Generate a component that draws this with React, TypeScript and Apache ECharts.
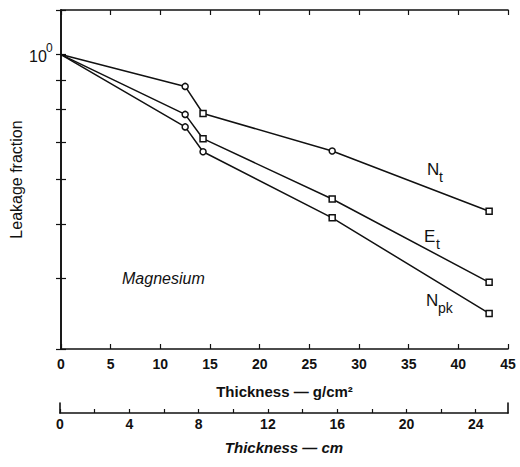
import React, { useEffect, useRef } from 'react';
import * as echarts from 'echarts';

// Absorber thickness (g/cm²) at which the leakage was measured
const thicknessGcm2 = [0, 12.5, 14.3, 27.3, 43.1];
// Leakage fractions
const nTotal = [1, 0.878, 0.786, 0.674, 0.527];
const eTotal = [1, 0.783, 0.709, 0.554, 0.394];
const nPeak = [1, 0.744, 0.672, 0.513, 0.347];
// Plot symbol used for each measured point
const nTotalMarks = ['circle', 'circle', 'rect', 'circle', 'rect'];
const eTotalMarks = ['circle', 'circle', 'rect', 'rect', 'rect'];
const nPeakMarks = ['circle', 'circle', 'circle', 'rect', 'rect'];

// Axis ticks
const leakageTicks = [0.3, 0.4, 0.5, 0.6, 0.7, 0.8, 0.9, 1.0, 1.2];
const cmTicks = [0, 2, 4, 6, 8, 10, 12, 14, 16, 18, 20, 22, 24];
const cmLabels = [0, 4, 8, 12, 16, 20, 24];
const magnesiumDensity = 1.74; // g/cm³

const FONT = 'Liberation Sans';
const INK = '#111';

function buildSeries(name: string, ys: number[], marks: string[]) {
  return {
    name,
    type: 'line',
    xAxisIndex: 0,
    yAxisIndex: 0,
    symbolSize: 6,
    lineStyle: { color: INK, width: 1.5 },
    itemStyle: { color: '#fff', borderColor: INK, borderWidth: 1.5 },
    data: thicknessGcm2.map((x, i) => ({
      value: [x, ys[i]],
      symbol: i === 0 ? 'none' : marks[i],
    })),
  };
}

function label(x: number, y: number, main: string, sub: string) {
  return {
    type: 'group',
    children: [
      {
        type: 'text',
        x,
        y,
        style: { text: main, font: `17px "${FONT}"`, fill: INK, textVerticalAlign: 'middle' },
      },
      {
        type: 'text',
        x: x + 12,
        y: y + 8,
        style: { text: sub, font: `14px "${FONT}"`, fill: INK, textVerticalAlign: 'middle' },
      },
    ],
  };
}

export default function App() {
  const ref = useRef<HTMLDivElement>(null);

  useEffect(() => {
    document.body.style.margin = '0';
    if (!ref.current) return;
    const chart = echarts.init(ref.current, null, { renderer: 'svg' });

    const tickStyle = { lineStyle: { color: INK, width: 1.2 } };
    const axisLine = { show: true, lineStyle: { color: INK, width: 1.6 } };

    chart.setOption({
      animation: false,
      backgroundColor: '#fff',
      grid: [
        { left: 61, right: 12, top: 10, height: 339 },
        { left: 60, right: 12, top: 403, height: 10 },
      ],
      xAxis: [
        {
          type: 'value',
          gridIndex: 0,
          position: 'bottom',
          min: 0,
          max: 45,
          interval: 5,
          axisLine,
          axisTick: { inside: true, length: 5, ...tickStyle },
          splitLine: { show: false },
          axisLabel: { margin: 8, fontSize: 14, fontWeight: 'bold', fontFamily: FONT, color: INK },
          name: 'Thickness — g/cm²',
          nameLocation: 'middle',
          nameGap: 35,
          nameTextStyle: { fontSize: 15, fontWeight: 'bold', fontFamily: FONT, color: INK },
        },
        {
          type: 'value',
          gridIndex: 0,
          position: 'top',
          min: 0,
          max: 45,
          interval: 5,
          axisLine,
          axisTick: { inside: true, length: 5, ...tickStyle },
          splitLine: { show: false },
          axisLabel: { show: false },
        },
        {
          type: 'value',
          gridIndex: 1,
          position: 'bottom',
          min: 0,
          max: 45 / magnesiumDensity,
          interval: 2,
          axisLine,
          axisTick: { inside: true, length: 4, customValues: cmTicks, ...tickStyle },
          splitLine: { show: false },
          axisLabel: {
            customValues: cmLabels,
            margin: 4,
            fontSize: 14,
            fontWeight: 'bold',
            fontFamily: FONT,
            color: INK,
          },
          name: 'Thickness — cm',
          nameLocation: 'middle',
          nameGap: 27,
          nameTextStyle: { fontSize: 15, fontWeight: 'bold', fontStyle: 'italic', fontFamily: FONT, color: INK },
        },
      ],
      yAxis: [
        {
          type: 'log',
          logBase: 10,
          gridIndex: 0,
          position: 'left',
          min: 0.3,
          max: 1.2,
          axisLine,
          axisTick: { inside: true, length: 5, customValues: leakageTicks, ...tickStyle },
          splitLine: { show: false },
          axisLabel: { show: false },
          name: 'Leakage fraction',
          nameLocation: 'middle',
          nameRotate: 90,
          nameGap: 37,
          nameTextStyle: { fontSize: 16, fontFamily: FONT, color: INK },
        },
        {
          type: 'log',
          logBase: 10,
          gridIndex: 0,
          position: 'right',
          min: 0.3,
          max: 1.2,
          axisLine,
          axisTick: { inside: true, length: 5, customValues: leakageTicks, ...tickStyle },
          splitLine: { show: false },
          axisLabel: { show: false },
        },
        {
          type: 'value',
          gridIndex: 1,
          position: 'left',
          min: 0,
          max: 1,
          axisLine,
          axisTick: { show: false },
          axisLabel: { show: false },
          splitLine: { show: false },
        },
        {
          type: 'value',
          gridIndex: 1,
          position: 'right',
          min: 0,
          max: 1,
          axisLine,
          axisTick: { show: false },
          axisLabel: { show: false },
          splitLine: { show: false },
        },
      ],
      series: [
        buildSeries('N_t', nTotal, nTotalMarks),
        buildSeries('E_t', eTotal, eTotalMarks),
        buildSeries('N_pk', nPeak, nPeakMarks),
      ],
      graphic: [
        {
          type: 'text',
          x: 29,
          y: 56,
          style: { text: '10', font: `16px "${FONT}"`, fill: INK, textVerticalAlign: 'middle' },
        },
        {
          type: 'text',
          x: 46,
          y: 48,
          style: { text: '0', font: `12px "${FONT}"`, fill: INK, textVerticalAlign: 'middle' },
        },
        {
          type: 'text',
          x: 122,
          y: 278,
          style: { text: 'Magnesium', font: `italic 16px "${FONT}"`, fill: INK, textVerticalAlign: 'middle' },
        },
        label(427, 169, 'N', 't'),
        label(424, 236, 'E', 't'),
        label(426, 300, 'N', 'pk'),
      ],
    });

    return () => chart.dispose();
  }, []);

  return <div ref={ref} style={{ width: 520, height: 467 }} />;
}
